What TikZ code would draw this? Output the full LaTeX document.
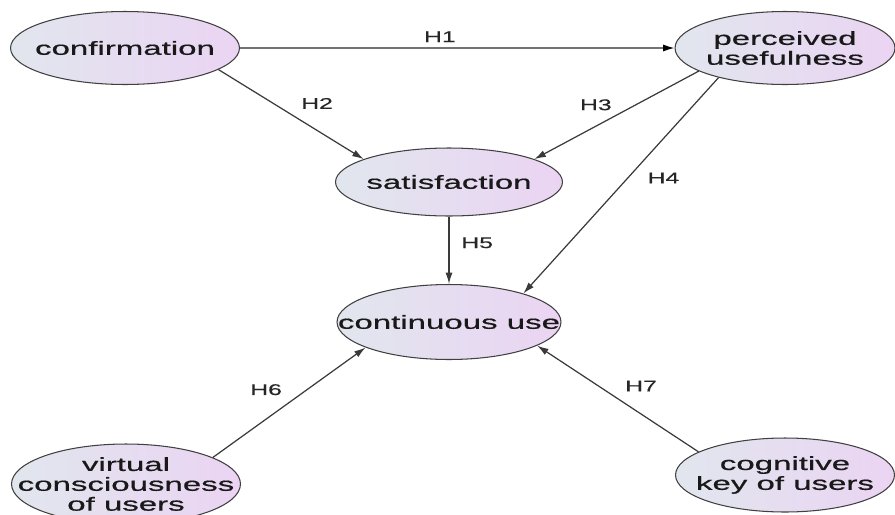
\documentclass[tikz,border=0pt]{standalone}
\usepackage{fontspec}
\setmainfont{Liberation Sans}
\newfontfamily\ovalfont[FakeStretch=1.74, FakeBold=0.6]{Liberation Sans}
\newfontfamily\hypfont[FakeStretch=1.6, FakeBold=0.4]{Liberation Sans}
\usepackage{tikz}
\usetikzlibrary{positioning, shapes.geometric, arrows.meta}

\definecolor{ovalleft}{HTML}{E1E6EE}
\definecolor{ovalright}{HTML}{EBD4F3}
\definecolor{liniengrau}{HTML}{3A3A3A}

\begin{document}
\begin{tikzpicture}[
            x=0.02cm, y=-0.02cm,
            oval/.style={
                    draw=black!75,
                    ellipse,
                    inner sep=0pt,
                    left color=ovalleft,
                    right color=ovalright,
                    line width=0.6pt
                },
            ovaltext/.style={
                    font=\ovalfont\fontsize{10.8}{11.3}\selectfont,
                    align=center,
                    inner sep=0pt,
                    text=black!90
                },
            pfeil/.style={
                    draw=liniengrau,
                    -{Latex[length=6.5pt,width=4pt]},
                    line width=0.7pt
                },
            hyp/.style={
                    font=\hypfont\fontsize{8.8}{10}\selectfont,
                    inner sep=1pt,
                    text=black!85
                }
        ]

        \useasboundingbox (0,0) rectangle (895,514);

        \node[oval, minimum width=4.58cm, minimum height=1.46cm, label={[ovaltext]center:confirmation}] (conf) at (125,48) {};
        \node[oval, minimum width=4.4cm, minimum height=1.46cm, label={[ovaltext]center:{perceived\\usefulness}}] (pu) at (785,48) {};
        \node[oval, minimum width=4.54cm, minimum height=1.36cm, label={[ovaltext]center:satisfaction}] (sat) at (449,182) {};
        \node[oval, minimum width=4.48cm, minimum height=1.5cm, label={[ovaltext]center:continuous use}] (cu) at (449,322) {};
        \node[oval, minimum width=4.58cm, minimum height=1.6cm, label={[ovaltext]center:{virtual\\consciousness\\of users}}] (vc) at (126,484) {};
        \node[oval, minimum width=4.38cm, minimum height=1.48cm, label={[ovaltext]center:{cognitive\\key of users}}] (ck) at (785,475) {};

        \draw[pfeil, draw=black!55, -{Latex[length=6.5pt,width=4pt,fill=black,color=black]}] (conf.east) -- node[hyp, pos=.46, above=2pt] {H1} (pu.west);
        \draw[pfeil] (conf.-13) -- node[hyp, pos=.52, above right=4pt] {H2} (sat.165);
        \draw[pfeil] (pu.195) -- node[hyp, pos=.5, above left=2pt] {H3} (sat.15);
        \draw[pfeil] (pu.204) -- node[hyp, pos=.465, right=0.35cm] {H4} (cu.21);
        \draw[pfeil] (sat.south) -- node[hyp, pos=.39, right=0.2cm] {H5} (cu.north);
        \draw[pfeil] (vc.17) -- node[hyp, pos=.5, above left=4pt] {H6} (cu.197);
        \draw[pfeil] (ck.165) -- node[hyp, pos=.5, above right=4pt] {H7} (cu.345);

    \end{tikzpicture}
\end{document}
